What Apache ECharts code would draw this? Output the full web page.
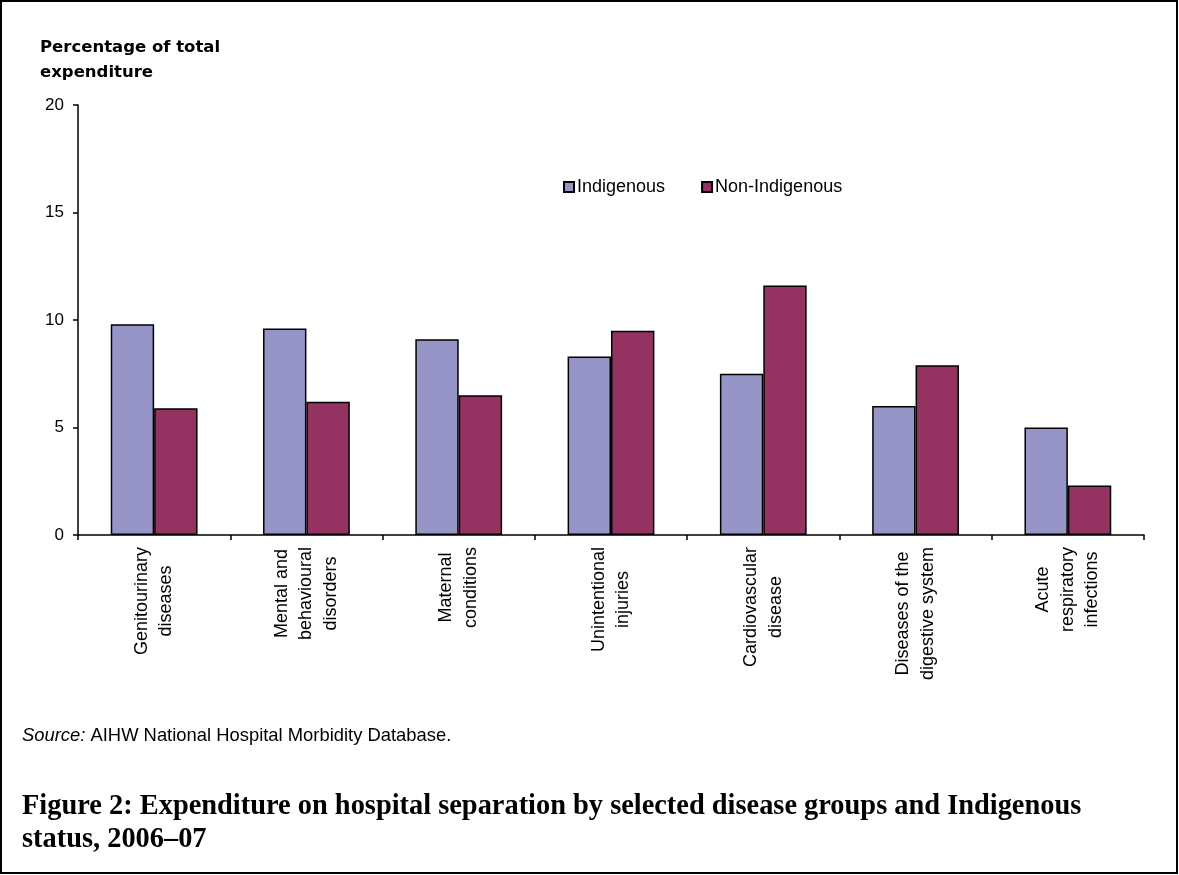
<!DOCTYPE html>
<html>
<head>
<meta charset="utf-8">
<script src="https://cdn.jsdelivr.net/npm/echarts@6/dist/echarts.min.js"></script>
<style>
html,body{margin:0;padding:0;background:#fff;}
#chart{width:1179px;height:875px;}
</style>
</head>
<body>
<div id="chart"></div>
<script>
var categories = [
  'Genitourinary\ndiseases',
  'Mental and\nbehavioural\ndisorders',
  'Maternal\nconditions',
  'Unintentional\ninjuries',
  'Cardiovascular\ndisease',
  'Diseases of the\ndigestive system',
  'Acute\nrespiratory\ninfections'
];
var indigenous = [9.8, 9.6, 9.1, 8.3, 7.5, 6.0, 5.0];
var nonIndigenous = [5.9, 6.2, 6.5, 9.5, 11.6, 7.9, 2.3];
var seriesNames = ['Indigenous', 'Non-Indigenous'];
var yTicks = [0, 5, 10, 15, 20];
var yAxisName = 'Percentage of total\nexpenditure';
var sourceItalic = 'Source:';
var sourceText = ' AIHW National Hospital Morbidity Database.';
var figureTitle = 'Figure 2: Expenditure on hospital separation by selected disease groups and Indigenous\nstatus, 2006\u201307';

var chart = echarts.init(document.getElementById('chart'), null, {renderer: 'canvas'});
var FONT = '"Liberation Sans", Arial, sans-serif';
var option = {
  backgroundColor: '#fff',
  animation: false,
  textStyle: {fontFamily: FONT, color: '#000'},
  title: [
    {
      left: 22, top: 727, padding: 0,
      text: '{i|' + sourceItalic + '}{n|' + sourceText + '}',
      textStyle: {
        fontWeight: 'normal',
        rich: {
          i: {fontStyle: 'italic', fontWeight: 'normal', fontSize: 18.4, fontFamily: FONT, color: '#000'},
          n: {fontWeight: 'normal', fontSize: 18.4, fontFamily: FONT, color: '#000'}
        }
      }
    },
    {
      left: 22, top: 790, padding: 0,
      text: figureTitle,
      textStyle: {fontFamily: '"Liberation Serif", "Times New Roman", serif', fontWeight: 'bold', fontSize: 28.4, lineHeight: 33, color: '#000'}
    }
  ],
  graphic: [{
    type: 'rect', silent: true,
    shape: {x: 1, y: 1, width: 1176, height: 872},
    style: {fill: 'none', stroke: '#000', lineWidth: 2}
  }],
  legend: {
    data: seriesNames,
    left: 558, top: 173,
    itemWidth: 10, itemHeight: 10, itemGap: 36,
    icon: 'rect',
    textStyle: {fontSize: 18, color: '#000', fontFamily: FONT, padding: [0, 0, 0, -2]}
  },
  grid: {left: 78, right: 35, top: 105, bottom: 340, containLabel: false},
  xAxis: {
    type: 'category',
    data: categories,
    axisLine: {lineStyle: {color: '#000', width: 1.5}},
    axisTick: {show: true, length: 5, lineStyle: {color: '#000', width: 1.5}},
    axisLabel: {
      rotate: 90, margin: 12, interval: 0,
      formatter: function (v) {
        return v.split('\n').map(function (s) { return '{c|' + s + '}'; }).join('\n');
      },
      rich: {c: {align: 'center', fontSize: 18, lineHeight: 24.5, fontFamily: FONT, color: '#000'}}
    }
  },
  yAxis: {
    type: 'value',
    min: yTicks[0], max: yTicks[yTicks.length - 1], interval: 5,
    name: yAxisName,
    nameLocation: 'end',
    nameGap: 20,
    nameTextStyle: {fontFamily: '"DejaVu Sans", sans-serif', fontWeight: 'bold', fontSize: 16.5, lineHeight: 25, color: '#000', align: 'left', padding: [0, 0, 0, -38]},
    axisLine: {show: true, lineStyle: {color: '#000', width: 1.5}},
    axisTick: {show: true, length: 5, lineStyle: {color: '#000', width: 1.5}},
    axisLabel: {fontSize: 17, color: '#000', margin: 14, fontFamily: FONT},
    splitLine: {show: false}
  },
  series: [
    {
      name: seriesNames[0], type: 'bar', data: indigenous,
      barGap: '0%', barCategoryGap: '43%',
      itemStyle: {color: '#9795C8', borderColor: '#000', borderWidth: 1.5}
    },
    {
      name: seriesNames[1], type: 'bar', data: nonIndigenous,
      barGap: '0%', barCategoryGap: '43%',
      itemStyle: {color: '#943262', borderColor: '#000', borderWidth: 1.5}
    }
  ]
};
chart.setOption(option);
</script>
</body>
</html>
